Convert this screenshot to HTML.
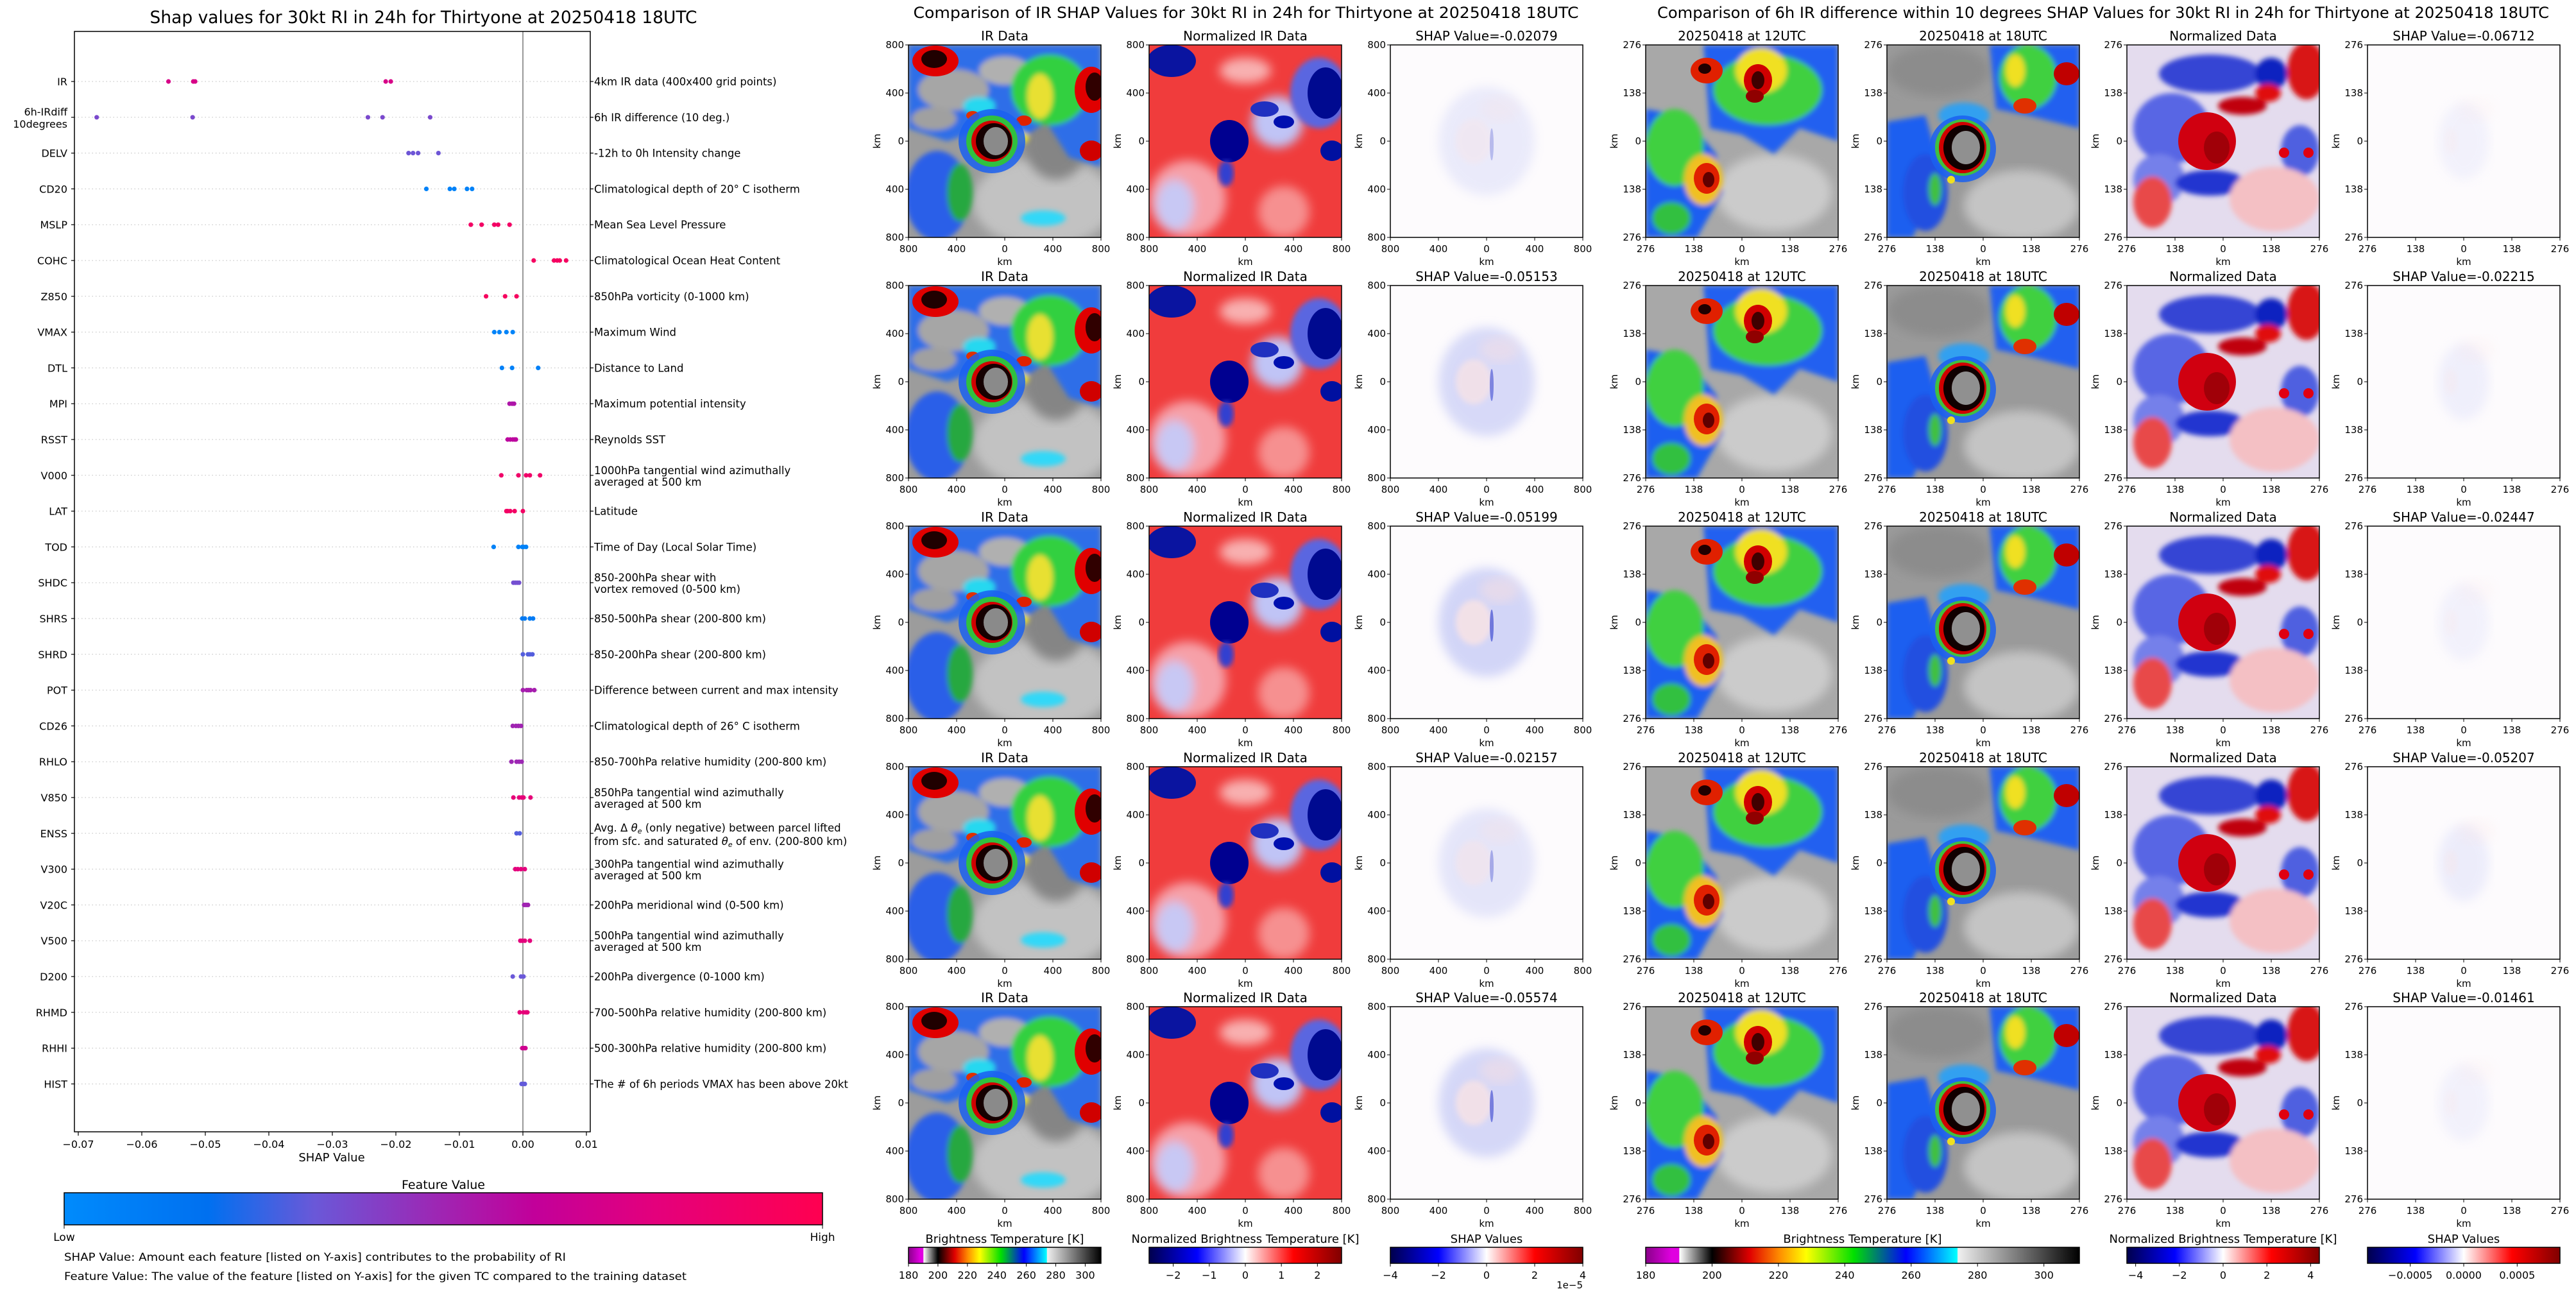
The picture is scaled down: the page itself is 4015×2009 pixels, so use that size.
<!DOCTYPE html>
<html><head><meta charset="utf-8"><title>SHAP RI figure</title>
<style>
html,body{margin:0;padding:0;background:#fff;}
svg{display:block;font-family:"DejaVu Sans","Liberation Sans",sans-serif;}
</style></head>
<body>
<svg id="fig" xmlns="http://www.w3.org/2000/svg" width="4015" height="2009" viewBox="0 0 4015 2009">
<defs>
  <linearGradient id="featGrad" x1="0" x2="1" y1="0" y2="0">
    <stop offset="0" stop-color="#008bfc"/><stop offset="0.19" stop-color="#0070f0"/>
    <stop offset="0.33" stop-color="#6a58d8"/><stop offset="0.5" stop-color="#a024b2"/>
    <stop offset="0.62" stop-color="#c2009a"/><stop offset="0.78" stop-color="#e4007c"/>
    <stop offset="1" stop-color="#ff0050"/>
  </linearGradient>
  <linearGradient id="btGrad" x1="0" x2="1">
    <stop offset="0" stop-color="#8a008a"/><stop offset="0.06" stop-color="#e000e0"/>
    <stop offset="0.077" stop-color="#e000e0"/><stop offset="0.078" stop-color="#ffffff"/>
    <stop offset="0.153" stop-color="#000000"/><stop offset="0.24" stop-color="#e00000"/>
    <stop offset="0.31" stop-color="#ff9000"/><stop offset="0.37" stop-color="#ffff00"/>
    <stop offset="0.48" stop-color="#00e000"/><stop offset="0.6" stop-color="#0000ff"/>
    <stop offset="0.718" stop-color="#00ffff"/><stop offset="0.72" stop-color="#f0f0f0"/>
    <stop offset="1" stop-color="#000000"/>
  </linearGradient>
  <linearGradient id="seisGrad" x1="0" x2="1">
    <stop offset="0" stop-color="#00004c"/><stop offset="0.25" stop-color="#0000ff"/>
    <stop offset="0.5" stop-color="#ffffff"/><stop offset="0.75" stop-color="#ff0000"/>
    <stop offset="1" stop-color="#800000"/>
  </linearGradient>
  <filter id="blur4"><feGaussianBlur stdDeviation="4"/></filter>
  <filter id="blur8"><feGaussianBlur stdDeviation="8"/></filter>
  <clipPath id="pclip"><rect x="0" y="0" width="300" height="300"/></clipPath>

  <g id="art-ir">
    <rect width="300" height="300" fill="#9c9c9c"/>
    <ellipse cx="210" cy="245" rx="110" ry="70" fill="#cfcfcf" opacity="0.75" filter="url(#blur8)"/>
    <ellipse cx="230" cy="150" rx="50" ry="60" fill="#858585" filter="url(#blur8)"/>
    <g filter="url(#blur4)">
      <path d="M0,0 H300 V190 L250,175 L215,120 L170,150 L120,130 L60,150 L0,130Z" fill="#2f6ee8"/>
      <ellipse cx="70" cy="70" rx="55" ry="32" fill="#a6a6a6"/>
      <ellipse cx="150" cy="40" rx="40" ry="22" fill="#b0b0b0"/>
      <ellipse cx="40" cy="115" rx="35" ry="18" fill="#a0a0a0"/>
      <ellipse cx="110" cy="95" rx="25" ry="14" fill="#26d8f0"/>
      <ellipse cx="220" cy="70" rx="60" ry="55" fill="#30d040"/>
      <ellipse cx="205" cy="80" rx="20" ry="35" fill="#e8e030"/>
      <ellipse cx="170" cy="145" rx="18" ry="10" fill="#e8e030"/>
      <ellipse cx="45" cy="235" rx="50" ry="70" fill="#2a5ee8"/>
      <ellipse cx="80" cy="230" rx="20" ry="45" fill="#28a840"/>
      <ellipse cx="210" cy="270" rx="35" ry="12" fill="#30d8f8"/>
    </g>
    <ellipse cx="42" cy="25" rx="36" ry="24" fill="#e00000"/>
    <ellipse cx="40" cy="22" rx="20" ry="14" fill="#200000"/>
    <ellipse cx="285" cy="70" rx="26" ry="36" fill="#e00000"/>
    <ellipse cx="290" cy="65" rx="14" ry="22" fill="#300000"/>
    <ellipse cx="285" cy="165" rx="18" ry="16" fill="#d00000"/>
    <ellipse cx="100" cy="110" rx="10" ry="7" fill="#e03000"/>
    <ellipse cx="180" cy="118" rx="12" ry="8" fill="#e02000"/>
    <ellipse cx="130" cy="150" rx="52" ry="50" fill="#1a60f0" opacity="0.85"/>
    <ellipse cx="130" cy="150" rx="40" ry="40" fill="#30c040"/>
    <ellipse cx="130" cy="150" rx="32" ry="32" fill="#d00000"/>
    <ellipse cx="133" cy="150" rx="28" ry="28" fill="#150000"/>
    <ellipse cx="136" cy="150" rx="19" ry="22" fill="#8a8a8a"/>
  </g>

  <g id="art-nir">
    <rect width="300" height="300" fill="#f03c3c"/>
    <g filter="url(#blur8)">
      <ellipse cx="60" cy="240" rx="60" ry="60" fill="#f6a0a8"/>
      <ellipse cx="210" cy="260" rx="40" ry="40" fill="#f69090"/>
      <ellipse cx="150" cy="40" rx="40" ry="20" fill="#f8b0b0"/>
      <ellipse cx="40" cy="250" rx="30" ry="40" fill="#c8c8f4"/>
      <ellipse cx="200" cy="120" rx="40" ry="40" fill="#c0c4f6"/>
    </g>
    <ellipse cx="35" cy="25" rx="38" ry="25" fill="#0a14a0"/>
    <ellipse cx="265" cy="75" rx="45" ry="55" fill="#5a66e0" filter="url(#blur4)"/>
    <ellipse cx="275" cy="75" rx="28" ry="40" fill="#000a90"/>
    <ellipse cx="180" cy="100" rx="22" ry="12" fill="#2030c0"/>
    <ellipse cx="210" cy="120" rx="16" ry="10" fill="#0010b0"/>
    <ellipse cx="125" cy="150" rx="30" ry="33" fill="#000090"/>
    <ellipse cx="120" cy="200" rx="12" ry="20" fill="#3040d0" filter="url(#blur4)"/>
    <ellipse cx="285" cy="165" rx="18" ry="16" fill="#0010a0"/>
  </g>

  <g id="art-t12">
    <rect width="300" height="300" fill="#a8a8a8"/>
    <ellipse cx="200" cy="230" rx="90" ry="60" fill="#d4d4d4" opacity="0.8" filter="url(#blur8)"/>
    <g filter="url(#blur4)">
      <path d="M90,0 H300 V150 L240,130 L200,170 L150,140 L100,130 Z" fill="#2060f0"/>
      <ellipse cx="190" cy="70" rx="85" ry="55" fill="#40d040"/>
      <ellipse cx="180" cy="40" rx="40" ry="35" fill="#f0e020"/>
      <path d="M0,100 L60,110 L110,170 L120,230 L80,300 L0,300Z" fill="#1e5ef0"/>
      <ellipse cx="45" cy="160" rx="45" ry="60" fill="#40d040"/>
      <ellipse cx="90" cy="210" rx="30" ry="40" fill="#f0c020"/>
      <ellipse cx="40" cy="270" rx="30" ry="25" fill="#30c040"/>
    </g>
    <ellipse cx="95" cy="40" rx="25" ry="20" fill="#e02000"/>
    <ellipse cx="92" cy="37" rx="10" ry="8" fill="#200000"/>
    <ellipse cx="175" cy="55" rx="22" ry="25" fill="#d00000"/>
    <ellipse cx="175" cy="55" rx="10" ry="14" fill="#400000"/>
    <ellipse cx="170" cy="80" rx="14" ry="10" fill="#900000"/>
    <ellipse cx="95" cy="208" rx="20" ry="24" fill="#e02000"/>
    <ellipse cx="98" cy="210" rx="9" ry="12" fill="#600000"/>
  </g>

  <g id="art-t18">
    <rect width="300" height="300" fill="#9a9a9a"/>
    <ellipse cx="210" cy="250" rx="90" ry="55" fill="#cfcfcf" opacity="0.8" filter="url(#blur8)"/>
    <ellipse cx="80" cy="40" rx="80" ry="40" fill="#8c8c8c" filter="url(#blur8)"/>
    <g filter="url(#blur4)">
      <path d="M160,0 H300 V130 L260,120 L220,110 L170,100 Z" fill="#2060f0"/>
      <ellipse cx="220" cy="50" rx="45" ry="50" fill="#40d040"/>
      <ellipse cx="200" cy="40" rx="15" ry="25" fill="#f0e020"/>
      <path d="M0,120 L60,110 L80,180 L70,240 L40,300 L0,300Z" fill="#1e5ef0"/>
      <ellipse cx="120" cy="110" rx="40" ry="20" fill="#30a0f0"/>
      <ellipse cx="60" cy="230" rx="35" ry="60" fill="#2050e0"/>
      <ellipse cx="75" cy="225" rx="10" ry="25" fill="#40c040"/>
    </g>
    <ellipse cx="280" cy="45" rx="20" ry="18" fill="#c00000"/>
    <ellipse cx="215" cy="95" rx="18" ry="12" fill="#e03000"/>
    <ellipse cx="118" cy="162" rx="52" ry="52" fill="#1a60f0" opacity="0.85"/>
    <ellipse cx="118" cy="160" rx="43" ry="44" fill="#40c040"/>
    <ellipse cx="118" cy="160" rx="37" ry="40" fill="#d00000"/>
    <ellipse cx="120" cy="160" rx="32" ry="35" fill="#100000"/>
    <ellipse cx="123" cy="160" rx="22" ry="26" fill="#909090"/>
    <circle cx="100" cy="210" r="6" fill="#f0e020"/>
  </g>

  <g id="art-nd">
    <rect width="300" height="300" fill="#e4dcee"/>
    <g filter="url(#blur4)">
      <ellipse cx="130" cy="45" rx="80" ry="30" fill="#3444d4"/>
      <ellipse cx="70" cy="130" rx="60" ry="55" fill="#5866e4"/>
      <ellipse cx="50" cy="210" rx="40" ry="40" fill="#7480ea"/>
      <ellipse cx="130" cy="215" rx="55" ry="20" fill="#2434d0"/>
      <ellipse cx="225" cy="45" rx="25" ry="25" fill="#0a20c0"/>
      <ellipse cx="270" cy="165" rx="30" ry="40" fill="#5060e0"/>
      <ellipse cx="230" cy="240" rx="70" ry="50" fill="#f4c0c4"/>
      <ellipse cx="40" cy="245" rx="30" ry="40" fill="#e84a4a"/>
      <ellipse cx="280" cy="40" rx="30" ry="45" fill="#d81818"/>
      <ellipse cx="180" cy="95" rx="38" ry="14" fill="#c00010"/>
      <ellipse cx="220" cy="75" rx="20" ry="14" fill="#e01010"/>
    </g>
    <ellipse cx="125" cy="150" rx="45" ry="45" fill="#d00010"/>
    <ellipse cx="140" cy="160" rx="20" ry="25" fill="#a00008"/>
    <circle cx="245" cy="168" r="8" fill="#e00010"/>
    <circle cx="283" cy="168" r="8" fill="#e00010"/>
  </g>
</defs>
</svg>

<script>
// ===================== SHAP summary chart data =====================
const features = ["IR","6h-IRdiff\n10degrees","DELV","CD20","MSLP","COHC","Z850","VMAX","DTL","MPI","RSST","V000","LAT","TOD","SHDC","SHRS","SHRD","POT","CD26","RHLO","V850","ENSS","V300","V20C","V500","D200","RHMD","RHHI","HIST"];
const descriptions = [
 "4km IR data (400x400 grid points)","6h IR difference (10 deg.)","-12h to 0h Intensity change",
 "Climatological depth of 20° C isotherm","Mean Sea Level Pressure","Climatological Ocean Heat Content",
 "850hPa vorticity (0-1000 km)","Maximum Wind","Distance to Land","Maximum potential intensity","Reynolds SST",
 "1000hPa tangential wind azimuthally\naveraged at 500 km","Latitude","Time of Day (Local Solar Time)",
 "850-200hPa shear with\nvortex removed (0-500 km)","850-500hPa shear (200-800 km)","850-200hPa shear (200-800 km)",
 "Difference between current and max intensity","Climatological depth of 26° C isotherm",
 "850-700hPa relative humidity (200-800 km)","850hPa tangential wind azimuthally\naveraged at 500 km",
 "ENSS","300hPa tangential wind azimuthally\naveraged at 500 km","200hPa meridional wind (0-500 km)",
 "500hPa tangential wind azimuthally\naveraged at 500 km","200hPa divergence (0-1000 km)",
 "700-500hPa relative humidity (200-800 km)","500-300hPa relative humidity (200-800 km)",
 "The # of 6h periods VMAX has been above 20kt"];
const shapValues = [
 [-0.0558,-0.0519,-0.0516,-0.0216,-0.0208],
 [-0.0671,-0.0520,-0.0244,-0.0221,-0.0146],
 [-0.0180,-0.0173,-0.0165,-0.0133],
 [-0.0152,-0.0115,-0.0108,-0.0088,-0.0080],
 [-0.0082,-0.0065,-0.0045,-0.0039,-0.0021],
 [0.0017,0.0049,0.0054,0.0058,0.0068],
 [-0.0058,-0.0028,-0.0010],
 [-0.0045,-0.0037,-0.0026,-0.0016],
 [-0.0033,-0.0017,0.0024],
 [-0.0021,-0.0017,-0.0014],
 [-0.0024,-0.0020,-0.0016,-0.0013,-0.0011],
 [-0.0034,-0.0007,0.0005,0.0011,0.0027],
 [-0.0026,-0.0024,-0.0020,-0.0013,0.0000],
 [-0.0046,-0.0007,-0.0001,0.0001,0.0005],
 [-0.0015,-0.0012,-0.0009,-0.0006],
 [-0.0001,0.0003,0.0011,0.0016],
 [0.0000,0.0008,0.0011,0.0015],
 [0.0000,0.0006,0.0009,0.0012,0.0018],
 [-0.0016,-0.0011,-0.0007,-0.0003],
 [-0.0018,-0.0010,-0.0006,-0.0002],
 [-0.0015,-0.0006,-0.0002,0.0001,0.0012],
 [-0.0010,-0.0005],
 [-0.0012,-0.0008,-0.0003,0.0003],
 [0.0002,0.0005,0.0008],
 [-0.0004,-0.0001,0.0003,0.0011],
 [-0.0016,-0.0003,0.0001],
 [-0.0005,0.0001,0.0005,0.0007],
 [-0.0001,0.0002,0.0004],
 [-0.0002,0.0001,0.0003]];
const featureLevels = [0.72,0.38,0.34,0.06,0.9,0.92,0.93,0.05,0.07,0.55,0.6,0.88,0.9,0.06,0.36,0.12,0.3,0.52,0.5,0.49,0.8,0.3,0.78,0.5,0.78,0.33,0.8,0.68,0.32];
const xTicks = [-0.07,-0.06,-0.05,-0.04,-0.03,-0.02,-0.01,0.00,0.01];
const xTickLabels = ["\u22120.07","\u22120.06","\u22120.05","\u22120.04","\u22120.03","\u22120.02","\u22120.01","0.00","0.01"];

const NS="http://www.w3.org/2000/svg";
const svg=document.getElementById('fig');
const AX={l:116,r:920,t:49,b:1764};
function xScale(v){return 815+v*9900;}
function yScale(i){return 127+i*55.8;}
const gradStops=[[0,[0,139,252]],[0.19,[0,112,240]],[0.33,[106,88,216]],[0.5,[160,36,178]],[0.62,[194,0,154]],[0.78,[228,0,124]],[1,[255,0,80]]];
function featColor(t){
  for(let i=1;i<gradStops.length;i++){
    if(t<=gradStops[i][0]){const a=gradStops[i-1],b=gradStops[i];const f=(t-a[0])/(b[0]-a[0]);
      const c=a[1].map((v,k)=>Math.round(v+(b[1][k]-v)*f));return `rgb(${c[0]},${c[1]},${c[2]})`;}
  }
  return 'rgb(255,0,80)';
}
function mk(tag,attrs,parent){const e=document.createElementNS(NS,tag);for(const k in attrs)e.setAttribute(k,attrs[k]);(parent||svg).appendChild(e);return e;}

const shapG=mk('g',{});



let t=mk('text',{x:660,y:36,'font-size':27,'text-anchor':'middle',textLength:853,lengthAdjust:'spacingAndGlyphs'},shapG);
t.textContent='Shap values for 30kt RI in 24h for Thirtyone at 20250418 18UTC';



features.forEach((f,i)=>{
  const y=yScale(i);
  const gl=mk('line',{x1:AX.l,x2:AX.r,y1:y,y2:y,stroke:'#bbbbbb','stroke-width':1,'stroke-dasharray':'1.5,4'},shapG);
  
  
});
const zl=mk('line',{x1:xScale(0),x2:xScale(0),y1:AX.t,y2:AX.b,stroke:'#999999','stroke-width':2},shapG);



features.forEach((f,i)=>{
  const y=yScale(i);
  const col=featColor(featureLevels[i]);
  shapValues[i].forEach(v=>{
    const d=mk('ellipse',{cx:xScale(v),cy:y,rx:3.6,ry:3.6,fill:col},shapG);
    
    
  });
  const lines=f.split('\n');
  lines.forEach((ln,k)=>{
    const ty=y+6+(lines.length>1?(k===0?-9:10):0);
    const lt=mk('text',{x:105,y:ty,'font-size':16,'text-anchor':'end'},shapG);
    lt.textContent=ln;
    
    
  });
  mk('line',{x1:AX.l-5,x2:AX.l,y1:y,y2:y,stroke:'#000','stroke-width':1.2},shapG);
  mk('line',{x1:AX.r,x2:AX.r+5,y1:y,y2:y,stroke:'#000','stroke-width':1.2},shapG);
  const desc=descriptions[i];
  if(desc==='ENSS'){
    const r1=mk('text',{x:926,y:y-3,'font-size':16.5},shapG);
    r1.innerHTML='Avg. \u0394 <tspan font-style="italic">\u03b8</tspan><tspan font-size="11" dy="3" font-style="italic">e</tspan><tspan dy="-3"> (only negative) between parcel lifted</tspan>';
    
    
    const r2=mk('text',{x:926,y:y+18,'font-size':16.5},shapG);
    r2.innerHTML='from sfc. and saturated <tspan font-style="italic">\u03b8</tspan><tspan font-size="11" dy="3" font-style="italic">e</tspan><tspan dy="-3"> of env. (200-800 km)</tspan>';
    
    
  } else {
    const dl=desc.split('\n');
    dl.forEach((ln,k)=>{
      const ty=y+6+(dl.length>1?(k===0?-8:10):0);
      const rt=mk('text',{x:926,y:ty,'font-size':16.5},shapG);
      rt.textContent=ln;
      
      
    });
  }
});
const frame=mk('rect',{x:AX.l,y:AX.t,width:AX.r-AX.l,height:AX.b-AX.t,fill:'none',stroke:'#000','stroke-width':1.5},shapG);


xTicks.forEach((v,k)=>{
  const x=xScale(v);
  mk('line',{x1:x,x2:x,y1:AX.b,y2:AX.b+6,stroke:'#000','stroke-width':1.2},shapG);
  const tl=mk('text',{x:x,y:AX.b+25,'font-size':16,'text-anchor':'middle'},shapG);
  tl.textContent=xTickLabels[k];
  
  
});
t=mk('text',{x:517,y:1810,'font-size':18,'text-anchor':'middle'},shapG);
t.textContent='SHAP Value';


t=mk('text',{x:691,y:1853,'font-size':19,'text-anchor':'middle'},shapG);
t.textContent='Feature Value';


const fcb=mk('rect',{x:100,y:1859,width:1182,height:50,fill:'url(#featGrad)',stroke:'#000','stroke-width':1.5},shapG);


mk('line',{x1:100,x2:100,y1:1909,y2:1915,stroke:'#000'},shapG);
mk('line',{x1:1282,x2:1282,y1:1909,y2:1915,stroke:'#000'},shapG);
t=mk('text',{x:100,y:1934,'font-size':17,'text-anchor':'middle'},shapG);
t.textContent='Low';


t=mk('text',{x:1282,y:1934,'font-size':17,'text-anchor':'middle'},shapG);
t.textContent='High';


t=mk('text',{x:100,y:1965,'font-size':17,textLength:782,lengthAdjust:'spacingAndGlyphs'},shapG);
t.textContent='SHAP Value: Amount each feature [listed on Y-axis] contributes to the probability of RI';


t=mk('text',{x:100,y:1995,'font-size':17,textLength:970,lengthAdjust:'spacingAndGlyphs'},shapG);
t.textContent='Feature Value: The value of the feature [listed on Y-axis] for the given TC compared to the training dataset';



// ===================== image panels =====================
const rowTops=[70,445,820,1195,1569];
const colLefts=[1416,1791,2167,2565,2941,3315,3690];
const irShapTitles=["-0.02079","-0.05153","-0.05199","-0.02157","-0.05574"];
const diffShapTitles=["-0.06712","-0.02215","-0.02447","-0.05207","-0.01461"];
const irShapStrength=[0.35,0.7,0.8,0.45,0.75];
const diffShapStrength=[0.2,0.25,0.2,0.3,0.2];

t=mk('text',{x:1942,y:28,'font-size':24,'text-anchor':'middle',textLength:1037,lengthAdjust:'spacingAndGlyphs'});
t.textContent='Comparison of IR SHAP Values for 30kt RI in 24h for Thirtyone at 20250418 18UTC';


t=mk('text',{x:3278,y:28,'font-size':24,'text-anchor':'middle',textLength:1390,lengthAdjust:'spacingAndGlyphs'});
t.textContent='Comparison of 6h IR difference within 10 degrees SHAP Values for 30kt RI in 24h for Thirtyone at 20250418 18UTC';



function shapArt(g,strength,big){
  mk('rect',{width:300,height:300,fill:'#fdfbfd'},g);
  mk('ellipse',{cx:150,cy:150,rx:big?75:40,ry:big?85:60,fill:'#c8ccf6',opacity:strength,filter:'url(#blur8)'},g);
  mk('ellipse',{cx:130,cy:150,rx:big?28:10,ry:big?35:20,fill:'#fbe4e4',opacity:strength,filter:'url(#blur4)'},g);
  mk('ellipse',{cx:170,cy:100,rx:30,ry:20,fill:'#fbe0e0',opacity:strength*0.6,filter:'url(#blur8)'},g);
  if(big) mk('ellipse',{cx:158,cy:155,rx:3,ry:25,fill:'#3040d0',opacity:strength*0.8},g);
}
const panelNames=['ir-data','normalized-ir-data','ir-shap-map','ir-12utc','ir-18utc','normalized-diff-data','diff-shap-map'];
rowTops.forEach((top,r)=>{
  colLefts.forEach((left,c)=>{
    const g=mk('g',{transform:`translate(${left},${top})`});
    
    
    const inner=mk('g',{'clip-path':'url(#pclip)'},g);
    if(c===0) mk('use',{href:'#art-ir'},inner);
    else if(c===1) mk('use',{href:'#art-nir'},inner);
    else if(c===2) shapArt(inner,irShapStrength[r],true);
    else if(c===3) mk('use',{href:'#art-t12'},inner);
    else if(c===4) mk('use',{href:'#art-t18'},inner);
    else if(c===5) mk('use',{href:'#art-nd'},inner);
    else shapArt(inner,diffShapStrength[r],false);
    mk('rect',{x:0,y:0,width:300,height:300,fill:'none',stroke:'#000','stroke-width':1.5},g);
    const ticks = c<3 ? ['800','400','0','400','800'] : ['276','138','0','138','276'];
    ticks.forEach((lab,k)=>{
      const p=k*75;
      mk('line',{x1:-5,x2:0,y1:p,y2:p,stroke:'#000'},g);
      mk('line',{x1:p,x2:p,y1:300,y2:305,stroke:'#000'},g);
      const yl=mk('text',{x:-7,y:p+5,'font-size':15,'text-anchor':'end'},g);
      yl.textContent=lab;
      
      
      const xl=mk('text',{x:p,y:323,'font-size':15,'text-anchor':'middle'},g);
      xl.textContent=lab;
      
      
    });
    const xk=mk('text',{x:150,y:343,'font-size':15,'text-anchor':'middle'},g);
    xk.textContent='km';
    
    
    const yk=mk('text',{x:0,y:0,'font-size':15,'text-anchor':'middle',transform:'translate(-44,150) rotate(-90)'},g);
    yk.textContent='km';
    
    
    const titles=['IR Data','Normalized IR Data','SHAP Value='+irShapTitles[r],'20250418 at 12UTC','20250418 at 18UTC','Normalized Data','SHAP Value='+diffShapTitles[r]];
    const st=mk('text',{x:150,y:-7,'font-size':20,'text-anchor':'middle'},g);
    st.textContent=titles[c];
    
    
  });
});

// ===================== panel colorbars =====================
const colorbarTitles=['Brightness Temperature [K]','Normalized Brightness Temperature [K]','SHAP Values','Brightness Temperature [K]','Normalized Brightness Temperature [K]','SHAP Values'];
const cbX=[[1416,1716],[1791,2091],[2167,2467],[2565,3241],[3315,3615],[3690,3990]];
const cbFill=['url(#btGrad)','url(#seisGrad)','url(#seisGrad)','url(#btGrad)','url(#seisGrad)','url(#seisGrad)'];
const cbMin=[180,-2.67,-4,180,-4.4,-0.0009];
const cbMax=[310.7,2.67,4,310.7,4.4,0.0009];
const cbTicks=[[180,200,220,240,260,280,300],[-2,-1,0,1,2],[-4,-2,0,2,4],[180,200,220,240,260,280,300],[-4,-2,0,2,4],[-0.0005,0,0.0005]];
const cbTickLabels=[["180","200","220","240","260","280","300"],["\u22122","\u22121","0","1","2"],["\u22124","\u22122","0","2","4"],["180","200","220","240","260","280","300"],["\u22124","\u22122","0","2","4"],["\u22120.0005","0.0000","0.0005"]];
cbX.forEach((xr,i)=>{
  const w=xr[1]-xr[0];
  const cb=mk('rect',{x:xr[0],y:1944,width:w,height:25,fill:cbFill[i],stroke:'#000','stroke-width':1.5});
  
  
  const ct=mk('text',{x:xr[0]+w/2,y:1937,'font-size':18,'text-anchor':'middle'});
  ct.textContent=colorbarTitles[i];
  
  
  cbTicks[i].forEach((v,k)=>{
    const x=xr[0]+(v-cbMin[i])/(cbMax[i]-cbMin[i])*w;
    mk('line',{x1:x,x2:x,y1:1969,y2:1974,stroke:'#000'});
    const tl=mk('text',{x:x,y:1993,'font-size':16,'text-anchor':'middle'});
    tl.textContent=cbTickLabels[i][k];
    
    
  });
});
t=mk('text',{x:2467,y:2008,'font-size':15,'text-anchor':'end'});
t.textContent='1e\u22125';


</script>
</body></html>
